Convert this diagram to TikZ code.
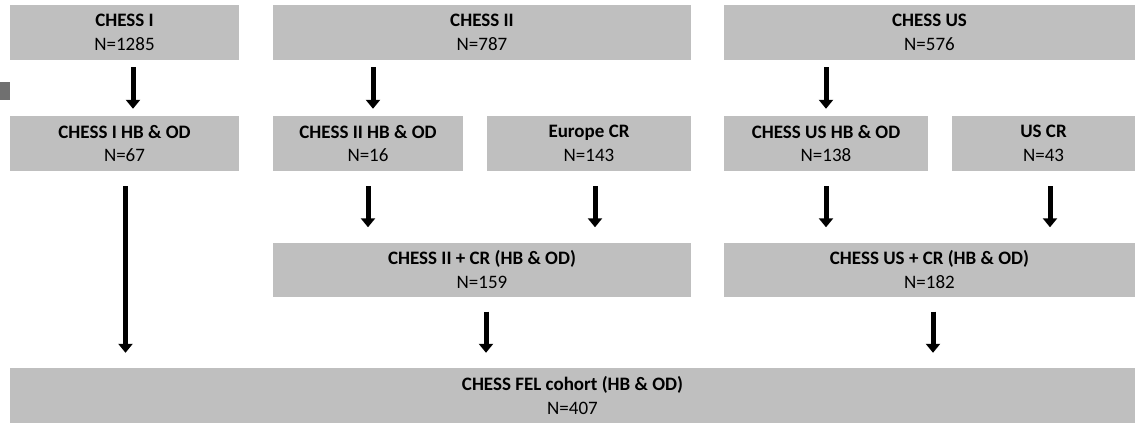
\documentclass[tikz,border=0pt]{standalone}
\usepackage{fontspec}
\setmainfont{Carlito}
\usetikzlibrary{arrows.meta,calc}
\definecolor{boxgray}{HTML}{BFBFBF}
\definecolor{markgray}{HTML}{707070}
\tikzset{
  box/.style={fill=boxgray, inner sep=0pt, align=center,
    font=\fontsize{19}{23.5}\selectfont, text=black,
    execute at begin node={\rule{0pt}{19pt}}},
  arr/.style={draw=black, line width=5pt, -{Triangle[width=14pt,length=9pt]},
    shorten <=#1, shorten >=#1},
  arr/.default=15pt
}
\begin{document}
\begin{tikzpicture}[x=1pt,y=-1pt]
\useasboundingbox (0,0) rectangle (1135,423);
\fill[markgray] (0,82) rectangle (10,100);
% row 1
\node[box, minimum width=229pt, minimum height=55pt] (c1) at (124.5,32.5) {\bfseries CHESS I\\N=1285};
\node[box, minimum width=418pt, minimum height=55pt] (c2) at (482,32.5) {\bfseries CHESS II\\N=787};
\node[box, minimum width=411pt, minimum height=55pt] (cus) at (929.5,32.5) {\bfseries CHESS US\\N=576};
% row 2
\node[box, minimum width=229pt, minimum height=55pt] (h1) at (124.5,143.5) {\bfseries CHESS I HB \& OD\\N=67};
\node[box, minimum width=190pt, minimum height=55pt] (h2) at (368,143.5) {\bfseries CHESS II HB \& OD\\N=16};
\node[box, minimum width=204pt, minimum height=55pt] (eu) at (589,143.5) {\bfseries Europe CR\\N=143};
\node[box, minimum width=204pt, minimum height=55pt] (hus) at (826,143.5) {\bfseries CHESS US HB \& OD\\N=138};
\node[box, minimum width=183pt, minimum height=55pt] (uscr) at (1043.5,143.5) {\bfseries US CR\\N=43};
% row 3
\node[box, minimum width=418pt, minimum height=54pt] (m2) at (482,269.5) {\bfseries CHESS II + CR (HB \& OD)\\N=159};
\node[box, minimum width=411pt, minimum height=54pt] (mus) at (929.5,269.5) {\bfseries CHESS US + CR (HB \& OD)\\N=182};
% row 4
\node[box, minimum width=1125pt, minimum height=55pt] (fel) at (572.5,395.5) {\bfseries CHESS FEL cohort (HB \& OD)\\N=407};
% arrows
\draw[arr=7pt] ($(c1.south)+(8.5,0)$) -- ($(h1.north)+(8.5,0)$);
\draw[arr=7pt] ($(c2.south)+(-109,0)$) -- ($(h2.north)+(5,0)$);
\draw[arr=7pt] ($(cus.south)+(-103.5,0)$) -- (hus.north);
\draw[arr] (h2.south) -- ($(m2.north)+(-114,0)$);
\draw[arr] ($(eu.south)+(6,0)$) -- ($(m2.north)+(113,0)$);
\draw[arr] (hus.south) -- ($(mus.north)+(-103.5,0)$);
\draw[arr] ($(uscr.south)+(6.5,0)$) -- ($(mus.north)+(120.5,0)$);
\draw[arr] ($(h1.south)+(1,0)$) -- ($(fel.north)+(-447,0)$);
\draw[arr] ($(m2.south)+(4,0)$) -- ($(fel.north)+(-86.5,0)$);
\draw[arr] ($(mus.south)+(3.5,0)$) -- ($(fel.north)+(360.5,0)$);
\end{tikzpicture}
\end{document}
